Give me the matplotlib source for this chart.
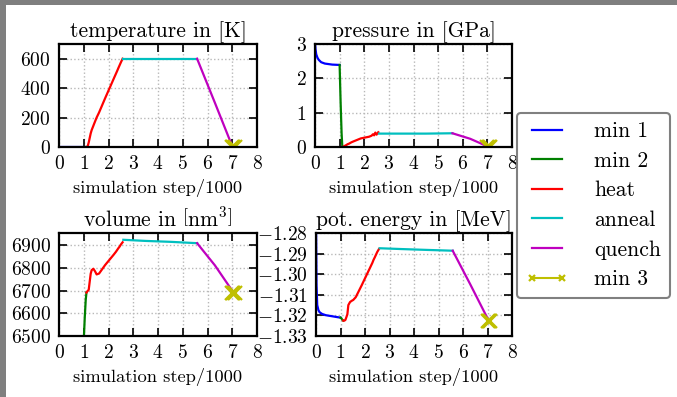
import matplotlib
matplotlib.use("Agg")
import matplotlib.pyplot as plt
import numpy as np
from matplotlib.patches import Rectangle
from matplotlib.mathtext import MathTextParser

plt.rcParams['font.family'] = 'serif'
plt.rcParams['font.serif'] = ['cmr10']
plt.rcParams['mathtext.fontset'] = 'cm'
plt.rcParams['axes.formatter.use_mathtext'] = True
plt.rcParams['axes.unicode_minus'] = True

# phases of the simulation (x in steps/1000)
min1_x = [0.0, 0.02, 0.05, 0.1, 0.15, 0.25, 0.4, 0.7, 1.0]
min2_x = [1.0, 1.04, 1.08, 1.11]
heat_x = [1.11, 1.15, 1.2, 1.28, 1.32, 1.39, 1.46, 1.52, 1.62, 1.86, 2.2, 2.3, 2.35, 2.4, 2.45, 2.5, 2.57]
anneal_x = [2.6, 3.5, 4.5, 5.58]
quench_x = [5.58, 6.3, 7.0]
min3_x = [7.0, 7.05, 7.1]

# temperature [K]
min1_T = [0, 0, 0, 0, 0, 0, 0, 0, 0]
min2_T = [0, 0, 0, 0]
heat_T = [0, 0, 30, 92, 115, 145, 175, 200, 235, 330, 460, 498, 517, 537, 556, 575, 600]
anneal_T = [600, 600, 600, 600]
quench_T = [600, 300, 5]
min3_T = [0, 0, 0]

# pressure [GPa]
min1_p = [3.05, 2.85, 2.7, 2.6, 2.54, 2.47, 2.43, 2.4, 2.39]
min2_p = [2.39, 1.3, 0.4, 0.0]
heat_p = [0.0, 0.01, 0.03, 0.06, 0.08, 0.1, 0.13, 0.15, 0.18, 0.25, 0.3, 0.33, 0.37, 0.34, 0.42, 0.36, 0.43]
anneal_p = [0.39, 0.39, 0.39, 0.4]
quench_p = [0.4, 0.24, 0.02]
min3_p = [0.0, 0.0, 0.0]

# volume [nm^3]
min1_V = [6300, 6300, 6300, 6300, 6300, 6300, 6300, 6300, 6300]
min2_V = [6480, 6580, 6660, 6692]
heat_V = [6692, 6698, 6704, 6775, 6791, 6797, 6785, 6772, 6776, 6813, 6858, 6872, 6880, 6888, 6895, 6904, 6914]
anneal_V = [6925, 6920, 6916, 6910]
quench_V = [6910, 6812, 6700]
min3_V = [6690, 6690, 6690]

# potential energy [MeV]
min1_E = [-1.27, -1.305, -1.315, -1.3175, -1.3185, -1.3193, -1.3199, -1.3205, -1.3211]
min2_E = [-1.3211, -1.3215, -1.3222, -1.3225]
heat_E = [-1.3225, -1.3226, -1.3222, -1.3195, -1.315, -1.3135, -1.3129, -1.3125, -1.3112, -1.3055, -1.297, -1.2945, -1.293, -1.2918, -1.2905, -1.2892, -1.2878]
anneal_E = [-1.2874, -1.2878, -1.2882, -1.2886]
quench_E = [-1.2886, -1.305, -1.3214]
min3_E = [-1.3227, -1.3227, -1.3227]


def vol_title():
    # bigger brackets like \left[ ... \right] in LaTeX
    parser = MathTextParser('agg')
    for cand in [r'volume in $\Bigl[\mathrm{nm}^3\Bigr]$',
                 r'volume in $\bigl[\mathrm{nm}^3\bigr]$',
                 r'volume in $\left[\mathrm{nm}^3\vphantom{(}\right]$',
                 r'volume in $\left[\mathrm{nm}^3\right]$']:
        try:
            parser.parse(cand[cand.index('$'):], 100, matplotlib.font_manager.FontProperties(size=15.5))
            return cand
        except Exception:
            pass
    return r'volume in $[\mathrm{nm}^3]$'


fig = plt.figure(figsize=(6.77, 3.97), dpi=100)
fig.patch.set_facecolor('#7f7f7f')
fig.patches.append(Rectangle((6 / 677, 0), 1, 1 - 5 / 397, transform=fig.transFigure,
                             facecolor='white', edgecolor='none', zorder=-10))

boxes = [(59, 44, 257, 147), (315, 44, 512, 147), (59, 233, 257, 336), (316, 233, 512, 336)]
titles = ['temperature in [K]', 'pressure in [GPa]', vol_title(), 'pot. energy in [MeV]']
ylims = [(0, 700), (0, 3), (6500, 6955), (-1.33, -1.28)]
yticks = [np.arange(0, 601, 200), np.arange(0, 4), np.arange(6500, 6901, 100),
          np.linspace(-1.33, -1.28, 6)]
series = [
    (min1_T, min2_T, heat_T, anneal_T, quench_T, min3_T),
    (min1_p, min2_p, heat_p, anneal_p, quench_p, min3_p),
    (min1_V, min2_V, heat_V, anneal_V, quench_V, min3_V),
    (min1_E, min2_E, heat_E, anneal_E, quench_E, min3_E),
]
xs = [min1_x, min2_x, heat_x, anneal_x, quench_x, min3_x]
names = ['min 1', 'min 2', 'heat', 'anneal', 'quench', 'min 3']
colors = ['#0000ff', '#008000', '#ff0000', '#00bfbf', '#bf00bf', '#bfbf00']

handles = []
for (l, t, r, b), title, ylim, yt, ys in zip(boxes, titles, ylims, yticks, series):
    ax = fig.add_axes([l / 677, 1 - b / 397, (r - l) / 677, (b - t) / 397])
    handles = []
    for x, y, c, n in zip(xs, ys, colors, names):
        if n == 'min 3':
            h, = ax.plot(x, y, color=c, lw=1.5, marker='x', ms=10, mew=1.6, label=n)
        else:
            h, = ax.plot(x, y, color=c, lw=1.6, label=n)
        handles.append(h)
    ax.set_xlim(0, 8)
    ax.set_ylim(*ylim)
    ax.set_xticks(range(9))
    ax.set_yticks(yt)
    ax.ticklabel_format(axis='y', useOffset=False)
    ax.set_title(title, fontsize=15.5, pad=5)
    ax.set_xlabel('simulation step/1000', fontsize=13.3, labelpad=4)
    ax.tick_params(direction='in', top=True, right=True, length=6, width=1.2,
                   labelsize=14, pad=6)
    ax.grid(True, color='#b8b8b8', linestyle=':', linewidth=1.0)
    for s in ax.spines.values():
        s.set_linewidth(1.6)

leg = fig.legend(handles, names, loc='upper left', bbox_to_anchor=(517 / 677, 1 - 113 / 397),
                 bbox_transform=fig.transFigure, fontsize=15.5, numpoints=2, markerscale=0.5,
                 fancybox=True, framealpha=1, labelspacing=0.47, borderaxespad=0,
                 handlelength=2.0, handletextpad=1.2)
leg.get_frame().set_edgecolor('#808080')
leg.get_frame().set_linewidth(1.5)

fig.savefig('out.png', dpi=100, facecolor=fig.get_facecolor())
